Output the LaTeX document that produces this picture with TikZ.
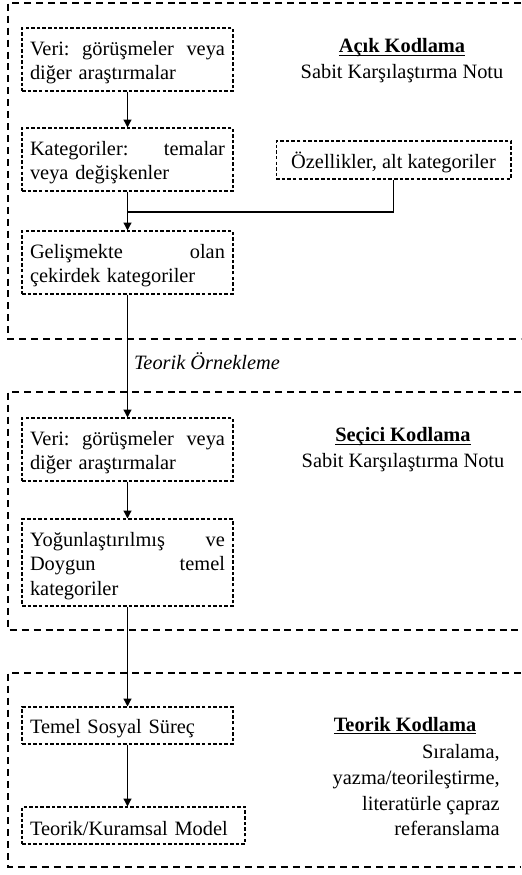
\documentclass[tikz,border=0pt]{standalone}
\usepackage{fontspec}
\setmainfont{Liberation Serif}
\usepackage{tikz}
\usetikzlibrary{arrows.meta,positioning}
\tikzstyle{blk}=[draw=black, line width=0.6pt, dash pattern=on 2pt off 1.2pt, inner xsep=0.16cm, inner ysep=0pt, font=\fontsize{11.6}{13.8}\selectfont, execute at begin node={\rule{0pt}{12pt}}]
\tikzstyle{blk2}=[blk, text width=3.9cm, align=left, minimum height=1.26cm]
\tikzstyle{frm}=[line width=0.6pt, dash pattern=on 4pt off 2.8pt]
\tikzstyle{l1}=[line width=0.75pt]
\tikzstyle{arr}=[l1, -{Triangle[length=4.5pt,width=4.5pt]}]
\tikzstyle{txt}=[inner sep=0pt, font=\fontsize{11.6}{14.7}\selectfont]
\newcommand{\baslik}[1]{\underline{\smash{\textbf{#1}}}}

\begin{document}
\begin{tikzpicture}[x=0.02cm,y=-0.02cm]
    \useasboundingbox (0,0) rectangle (521,875);

    % frames
    \draw[frm] (521,3) -- (8,3) -- (8,339) -- (521,339);
    \draw[frm] (521,392) -- (8,392) -- (8,630) -- (521,630);
    \draw[frm] (521,673) -- (8,673) -- (8,867) -- (521,867);

    \node[blk2] (a) at (127.5,59.5) {Veri:\hfill görüşmeler\hfill veya\\diğer araştırmalar};
    \node[blk2] (b) at (127.5,159.5) {Kategoriler:\hfill temalar\\veya değişkenler};
    \node[blk, minimum width=4.7cm, minimum height=0.76cm] (oz) at (393.5,160) {Özellikler, alt kategoriler};
    \node[blk2] (c) at (127.5,262.5) {Gelişmekte\hfill olan\\çekirdek kategoriler};
    \node[blk2] (d) at (127.5,449.5) {Veri:\hfill görüşmeler\hfill veya\\diğer araştırmalar};
    \node[blk2, minimum height=1.74cm] (e) at (127.5,562.5) {Yoğunlaştırılmış\hfill ve\\Doygun\hfill temel\\kategoriler};
    \node[blk2, minimum height=0.74cm] (f) at (127.5,725.5) {Temel Sosyal Süreç};
    \node[blk, text width=4.14cm, align=left, minimum height=0.74cm] (g) at (133.5,825.5) {Teorik/Kuramsal Model};
    \coordinate (j) at (127.5,212);

    \node[txt, align=center] (acik) at (402,68) {\baslik{Açık Kodlama}\\Sabit Karşılaştırma Notu};
    \node[txt, align=center] (secici) at (403,457) {\baslik{Seçici Kodlama}\\Sabit Karşılaştırma Notu};
    \node[txt] (teorik) at (405,733) {\baslik{Teorik Kodlama}};
    \node[txt, align=right, anchor=north east] (tnot) at (500,744) {Sıralama,\\yazma/teorileştirme,\\literatürle çapraz\\referanslama};

    \draw[arr] (a) -- (b);
    \draw[arr] (b) -- (c);
    \draw[l1] (oz) |- (j);
    \draw[arr] (c) -- node[right, pos=0.54, font=\fontsize{11.6}{14}\selectfont\itshape] (tornek) {Teorik Örnekleme} (d);
    \draw[arr] (d) -- (e);
    \draw[arr] (e) -- (f);
    \draw[arr] (f) -- (f.south |- g.north);
\end{tikzpicture}
\end{document}
